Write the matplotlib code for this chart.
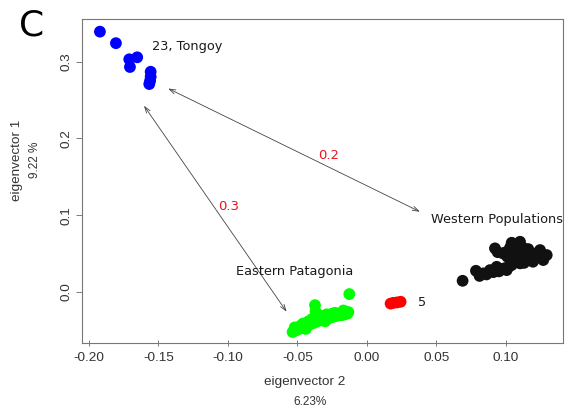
import matplotlib
matplotlib.use("Agg")
import matplotlib.pyplot as plt

# PCA scores (eigenvector 2 on x, eigenvector 1 on y)
tongoy_x = [-0.1921, -0.1806, -0.1710, -0.1653, -0.1705, -0.1556, -0.1556, -0.1566, -0.1560]
tongoy_y = [0.3390, 0.3240, 0.3030, 0.3056, 0.2930, 0.2868, 0.2803, 0.2708, 0.2750]

east_x = [-0.0535, -0.0510, -0.0490, -0.0470, -0.0450, -0.0440, -0.0420, -0.0400, -0.0380,
          -0.0360, -0.0340, -0.0320, -0.0300, -0.0280, -0.0260, -0.0240, -0.0220, -0.0200,
          -0.0180, -0.0160, -0.0140, -0.0134, -0.0374, -0.0127, -0.0480, -0.0420, -0.0330,
          -0.0250, -0.0160, -0.0520, -0.0460, -0.0395, -0.0350, -0.0290, -0.0230, -0.0170,
          -0.0370, -0.0440, -0.0300]
east_y = [-0.0520, -0.0500, -0.0480, -0.0470, -0.0450, -0.0430, -0.0430, -0.0410, -0.0400,
          -0.0380, -0.0370, -0.0360, -0.0350, -0.0340, -0.0330, -0.0320, -0.0310, -0.0300,
          -0.0300, -0.0290, -0.0280, -0.0260, -0.0170, -0.0026, -0.0440, -0.0380, -0.0310,
          -0.0280, -0.0250, -0.0460, -0.0410, -0.0350, -0.0330, -0.0290, -0.0270, -0.0240,
          -0.0250, -0.0480, -0.0380]

pop5_x = [0.0170, 0.0190, 0.0215, 0.0242]
pop5_y = [-0.0150, -0.0140, -0.0135, -0.0126]

west_x = [0.0688, 0.0784, 0.0837, 0.0885, 0.0933, 0.1005, 0.1041, 0.0921, 0.0978, 0.1041,
          0.1065, 0.1101, 0.1113, 0.1101, 0.1173, 0.1194, 0.1245, 0.1293, 0.1268, 0.0960,
          0.1150, 0.1080, 0.1220, 0.0810, 0.0860, 0.0910, 0.0950, 0.0990, 0.1020, 0.1000,
          0.1030, 0.1080, 0.1120, 0.1160, 0.1200, 0.1240, 0.1270, 0.1060, 0.1130, 0.1190,
          0.0940, 0.1010, 0.1090]
west_y = [0.0147, 0.0277, 0.0243, 0.0286, 0.0329, 0.0286, 0.0352, 0.0569, 0.0504, 0.0642,
          0.0547, 0.0655, 0.0482, 0.0374, 0.0504, 0.0395, 0.0547, 0.0482, 0.0417, 0.0300,
          0.0440, 0.0420, 0.0460, 0.0210, 0.0230, 0.0260, 0.0270, 0.0310, 0.0330, 0.0520,
          0.0580, 0.0600, 0.0580, 0.0560, 0.0500, 0.0450, 0.0450, 0.0400, 0.0380, 0.0420,
          0.0520, 0.0460, 0.0440]

# pairwise distances drawn as double arrows
dist_labels = ["0.2", "0.3"]
dist_start = [(-0.1430, 0.2650), (-0.1604, 0.2426)]
dist_end = [(0.0381, 0.1046), (-0.0578, -0.0256)]
dist_label_pos = [(-0.0278, 0.1780), (-0.0993, 0.1120)]

x_ticks = [-0.20, -0.15, -0.10, -0.05, 0.00, 0.05, 0.10]
y_ticks = [0.0, 0.1, 0.2, 0.3]

fig = plt.figure(figsize=(5.73, 4.12), dpi=100)
ax = fig.add_axes([0.1431, 0.168, 0.8394, 0.785])

ms = 72
ax.scatter(tongoy_x, tongoy_y, s=ms, color="#0000ff", edgecolors="none", zorder=3)
ax.scatter(east_x, east_y, s=ms, color="#00ff00", edgecolors="none", zorder=3)
ax.scatter(pop5_x, pop5_y, s=ms, color="#ff0000", edgecolors="none", zorder=3)
ax.scatter(west_x, west_y, s=ms, color="#111111", edgecolors="none", zorder=3)

for lab, p0, p1, lp in zip(dist_labels, dist_start, dist_end, dist_label_pos):
    ax.annotate("", xy=p1, xytext=p0,
                arrowprops=dict(arrowstyle="<->,head_length=0.45,head_width=0.15",
                                lw=0.6, color="#444444", shrinkA=0, shrinkB=0))
    ax.text(lp[0], lp[1], lab, color="#e8141c", fontsize=9.5,
            family="DejaVu Sans", ha="center", va="center")

txt = dict(fontsize=9.3, family="DejaVu Sans", color="#1a1a1a", ha="left", va="center")
ax.text(-0.155, 0.320, "23, Tongoy", **txt)
ax.text(-0.0942, 0.0264, "Eastern Patagonia", **txt)
ax.text(0.046, 0.095, "Western Populations", **txt)
ax.text(0.0367, -0.013, "5", **txt)

ax.set_xlim(-0.205, 0.141)
ax.set_ylim(-0.066, 0.355)

ax.set_xticks(x_ticks)
ax.set_xticklabels([f"{v:.2f}" for v in x_ticks], family="Liberation Sans", fontsize=9.7, color="#333333")
ax.set_yticks(y_ticks)
ax.set_yticklabels([f"{v:.1f}" for v in y_ticks], family="Liberation Sans", fontsize=9.7,
                   color="#333333", rotation=90, va="center")
ax.tick_params(axis="x", direction="inout", length=5, width=0.6, color="#666666", pad=4)
ax.tick_params(axis="y", direction="out", length=4, width=0.6, color="#666666", pad=3)
for sp in ax.spines.values():
    sp.set_color("#777777")
    sp.set_linewidth(0.8)

fig.text(305 / 573, 1 - 382 / 412, "eigenvector 2", family="Liberation Sans", fontsize=9.7,
         color="#333333", ha="center", va="center")
fig.text(310 / 573, 1 - 402 / 412, "6.23%", family="Liberation Sans", fontsize=8.5,
         color="#333333", ha="center", va="center")
fig.text(17 / 573, 1 - 160 / 412, "eigenvector 1", family="Liberation Sans", fontsize=9.7,
         color="#333333", ha="center", va="center", rotation=90)
fig.text(35 / 573, 1 - 160 / 412, "9.22 %", family="Liberation Sans", fontsize=8.5,
         color="#333333", ha="center", va="center", rotation=90)
fig.text(19 / 573, 1 - 25 / 412, "C", family="DejaVu Sans", fontsize=26,
         color="#000000", ha="left", va="center")

fig.savefig("out.png", dpi=100)
